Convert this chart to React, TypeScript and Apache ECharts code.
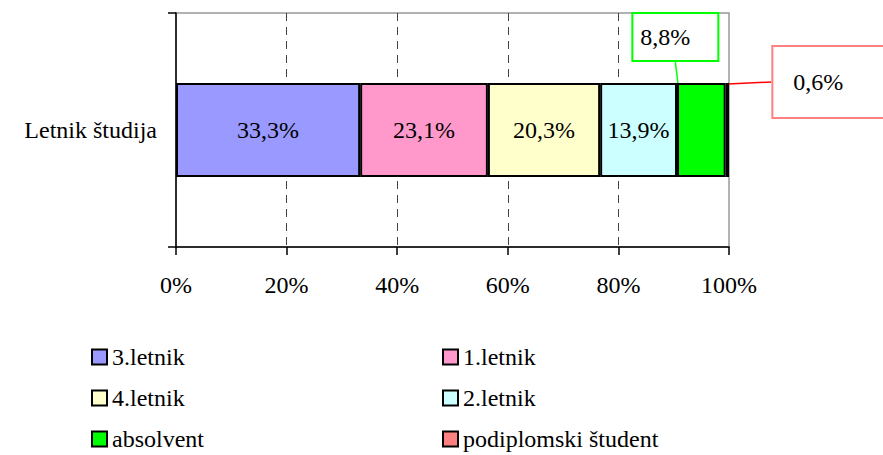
import React, { useEffect, useRef } from "react";
import * as echarts from "echarts";

const categories = ["Letnik študija"];
const seriesNames = ["3.letnik", "1.letnik", "4.letnik", "2.letnik", "absolvent", "podiplomski študent"];
const seriesValues = [33.3, 23.1, 20.3, 13.9, 8.8, 0.6];
const seriesColors = ["#9999FF", "#FF99CC", "#FFFFCC", "#CCFFFF", "#00FF00", "#FF8080"];
const xTicks = { min: 0, max: 100, interval: 20 };
const legendLeft = ["3.letnik", "4.letnik", "absolvent"];
const legendRight = ["1.letnik", "2.letnik", "podiplomski študent"];

const FONT = "serif";

export default function App() {
  const ref = useRef<HTMLDivElement>(null);
  useEffect(() => {
    if (!ref.current) return;
    const chart = echarts.init(ref.current, undefined, { renderer: "svg" });
    const fmt = (v: number) => v.toFixed(1).replace(".", ",") + "%";
    const txt = { fontFamily: FONT, fontSize: 24, fontStyle: "normal", fontWeight: "normal", color: "#000" };
    const series = seriesNames.map((name, i) => {
      const s: any = {
        name,
        type: "bar",
        stack: "total",
        barWidth: 94,
        data: [seriesValues[i]],
        itemStyle: { color: seriesColors[i], borderColor: "#000", borderWidth: 2 },
        label: {
          show: true,
          position: "inside",
          formatter: (p: any) => fmt(p.value),
          ...txt,
        },
      };
      if (name === "absolvent") {
        s.label = {
          ...s.label,
          backgroundColor: "#fff",
          borderColor: "#00FF00",
          borderWidth: 2,
          padding: [8, 27, 14, 7],
        };
        s.labelLayout = { dx: -26, dy: -93 };
        s.labelLine = { show: true, lineStyle: { color: "#00FF00", width: 1.5 } };
      }
      if (name === "podiplomski študent") {
        s.label = {
          ...s.label,
          backgroundColor: "#fff",
          borderColor: "#FF8080",
          borderWidth: 2,
          padding: [14, 60, 32, 20],
        };
        s.labelLayout = { dx: 111, dy: -48 };
        s.labelLine = { show: true, lineStyle: { color: "#FF0000", width: 1.5 } };
      }
      return s;
    });
    const legendCommon = {
      orient: "vertical",
      icon: "rect",
      itemWidth: 15,
      itemHeight: 15,
      itemGap: 17,
      height: 140,
      textStyle: { ...txt },
      selectedMode: false,
    };
    chart.setOption({
      animation: false,
      backgroundColor: "#fff",
      textStyle: { fontFamily: FONT },
      grid: {
        left: 176,
        right: 154,
        top: 13,
        bottom: 208,
        show: true,
        borderColor: "#999",
        borderWidth: 1.5,
      },
      xAxis: {
        type: "value",
        min: xTicks.min,
        max: xTicks.max,
        interval: xTicks.interval,
        axisLine: { show: true, lineStyle: { color: "#000", width: 1.5 } },
        axisTick: { show: true, length: 8, lineStyle: { color: "#000", width: 1.5 } },
        axisLabel: { formatter: "{value}%", ...txt, margin: 26 },
        splitLine: {
          show: true,
          showMinLine: false,
          showMaxLine: false,
          lineStyle: { color: "#444", type: [8, 6], width: 1 },
        },
      },
      yAxis: {
        type: "category",
        data: categories,
        axisLine: { show: true, lineStyle: { color: "#000", width: 1.5 } },
        axisTick: { show: true, length: 8, lineStyle: { color: "#000", width: 1.5 } },
        axisLabel: { ...txt, margin: 19 },
      },
      legend: [
        { ...legendCommon, left: 86, top: 340, data: legendLeft },
        { ...legendCommon, left: 437, top: 340, data: legendRight },
      ],
      series,
    });
    return () => chart.dispose();
  }, []);
  return <div ref={ref} style={{ position: "fixed", left: 0, top: 0, width: 883, height: 455 }} />;
}
